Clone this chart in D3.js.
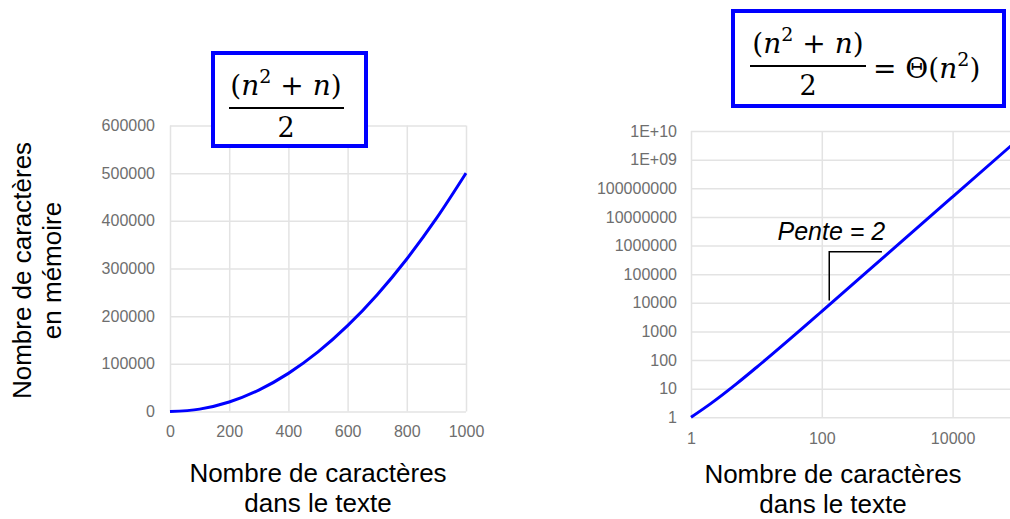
<!DOCTYPE html>
<html><head><meta charset="utf-8">
<script src="https://cdn.jsdelivr.net/npm/d3@7"></script>
<style>
html,body{margin:0;padding:0;background:#fff;}
svg{display:block;}
</style></head>
<body>
<svg id="chart" width="1010" height="519"></svg>
<script>
// ---- Data ----
const linN = [0,100,200,300,400,500,600,700,800,900,1000];
const linVals = [0,5000,20000,45000,80000,125000,180000,245000,320000,405000,500000];
const linXTicks = [0,200,400,600,800,1000];
const linYTicks = [0,100000,200000,300000,400000,500000,600000];

const logN = [1,2,5,10,100,1000,10000,100000];
const logVals = [1,3,15,55,5000,500000,50000000,5000000000];
const logXTicks = [1,100,10000];
const logXLabels = ["1","100","10000"];
const logYTicks = [1,10,100,1000,1e4,1e5,1e6,1e7,1e8,1e9,1e10];
const logYLabels = ["1","10","100","1000","10000","100000","1000000","10000000","100000000","1E+09","1E+10"];

const xTitle = ["Nombre de caractères","dans le texte"];
const yTitle = ["Nombre de caractères","en mémoire"];
const slopeLabel = "Pente = 2";
// slope triangle (data coords)
const slopeTri = {n0:130, n1:830, yTop:6e5, yBottom:1.2e4};
const slopeText = {n:21, y:1.5e6};

const svg = d3.select("#chart");
const BLUE = "#0000ff";
const GRID = "#e3e3e3";
const TICK = "#6e6e6e";
const SANS = "'Liberation Sans', Arial, sans-serif";
const SERIF = "'DejaVu Serif', serif";

// ---- Left chart ----
const xL = d3.scaleLinear().domain([0,1000]).range([170,466]);
const yL = d3.scaleLinear().domain([0,600000]).range([411.5,125.5]);

function styleAxis(g){
  g.select(".domain").remove();
  g.selectAll(".tick line").attr("stroke",GRID).attr("stroke-width",1.5);
  g.selectAll(".tick text").attr("fill",TICK).style("font-family",SANS).style("font-size","16px");
}

svg.append("g").attr("transform",`translate(0,${yL(0)})`)
  .call(d3.axisBottom(xL).tickValues(linXTicks).tickFormat(d3.format("d"))
    .tickSize(-(yL(0)-yL(600000))).tickPadding(14)).call(styleAxis);
svg.append("g").attr("transform",`translate(${xL(0)},0)`)
  .call(d3.axisLeft(yL).tickValues(linYTicks).tickFormat(d3.format("d"))
    .tickSize(-(xL(1000)-xL(0))).tickPadding(15)).call(styleAxis);

const linData = linN.map((n,i)=>[n,linVals[i]]);
svg.append("path").datum(linData)
  .attr("fill","none").attr("stroke",BLUE).attr("stroke-width",3)
  .attr("d", d3.line().x(d=>xL(d[0])).y(d=>yL(d[1])).curve(d3.curveMonotoneX));

// ---- Right chart ----
const xR = d3.scaleLog().domain([1,1e6]).range([691,691+6*65.4]);
const yR = d3.scaleLog().domain([1,1e10]).range([417.3,131]);

svg.append("g").attr("transform",`translate(0,${yR(1)})`)
  .call(d3.axisBottom(xR).tickValues(logXTicks).tickFormat((d,i)=>logXLabels[i])
    .tickSize(-(yR(1)-yR(1e10))).tickPadding(15)).call(styleAxis);
svg.append("g").attr("transform",`translate(${xR(1)},0)`)
  .call(d3.axisLeft(yR).tickValues(logYTicks).tickFormat((d,i)=>logYLabels[i])
    .tickSize(-(xR(1e6)-xR(1))).tickPadding(14)).call(styleAxis);

const logData = logN.map((n,i)=>[n,logVals[i]]);
svg.append("path").datum(logData)
  .attr("fill","none").attr("stroke",BLUE).attr("stroke-width",3)
  .attr("d", d3.line().x(d=>xR(d[0])).y(d=>yR(d[1])).curve(d3.curveMonotoneX));

// slope annotation
svg.append("path")
  .attr("fill","none").attr("stroke","#000").attr("stroke-width",1.5)
  .attr("d", `M${xR(slopeTri.n0)},${yR(slopeTri.yBottom)}L${xR(slopeTri.n0)},${yR(slopeTri.yTop)}L${xR(slopeTri.n1)},${yR(slopeTri.yTop)}`);
svg.append("text").attr("x",xR(slopeText.n)).attr("y",yR(slopeText.y))
  .style("font-family",SANS).style("font-size","25px").style("font-style","italic")
  .attr("fill","#000").text(slopeLabel);

// ---- Axis titles ----
function title2(cx, y1, gap, lines, rotate){
  const t = svg.append("text").attr("text-anchor","middle")
    .style("font-family",SANS).style("font-size","26px").attr("fill","#000");
  if(rotate){
    t.attr("transform",`translate(${cx},${y1}) rotate(-90)`);
    t.append("tspan").attr("x",0).attr("y",0).text(lines[0]);
    t.append("tspan").attr("x",0).attr("y",gap).text(lines[1]);
  } else {
    t.append("tspan").attr("x",cx).attr("y",y1).text(lines[0]);
    t.append("tspan").attr("x",cx).attr("y",y1+gap).text(lines[1]);
  }
}
title2(318, 482, 30, xTitle, false);
title2(833, 483, 30, xTitle, false);
title2(31, 270.5, 30, yTitle, true);

// ---- Formula boxes ----
const SUP = 0.68, SUPDY = 0.42;
function numerator(cx, by, size){
  const t = svg.append("text").attr("x",cx).attr("y",by).attr("text-anchor","middle")
    .style("font-family",SERIF).style("font-size",size+"px").attr("fill","#000");
  t.append("tspan").text("(");
  t.append("tspan").style("font-style","italic").text("n");
  t.append("tspan").attr("dy",-size*SUPDY).style("font-size",(size*SUP)+"px").text("2");
  t.append("tspan").attr("dy",size*SUPDY).text(" + ");
  t.append("tspan").style("font-style","italic").text("n");
  t.append("tspan").text(")");
  return t;
}
// left
svg.append("rect").attr("x",213).attr("y",53).attr("width",153).attr("height",93)
  .attr("fill","#fff").attr("stroke",BLUE).attr("stroke-width",4);
numerator(286, 95, 28);
svg.append("line").attr("x1",229).attr("x2",344).attr("y1",108).attr("y2",108)
  .attr("stroke","#000").attr("stroke-width",2);
svg.append("text").attr("x",286).attr("y",137).attr("text-anchor","middle")
  .style("font-family",SERIF).style("font-size","27px").text("2");

// right
svg.append("rect").attr("x",733).attr("y",11).attr("width",271).attr("height",95)
  .attr("fill","#fff").attr("stroke",BLUE).attr("stroke-width",4);
numerator(808, 53, 28);
svg.append("line").attr("x1",750).attr("x2",866).attr("y1",66).attr("y2",66)
  .attr("stroke","#000").attr("stroke-width",2);
svg.append("text").attr("x",808).attr("y",95).attr("text-anchor","middle")
  .style("font-family",SERIF).style("font-size","27px").text("2");
const rt = svg.append("text").attr("x",873).attr("y",78)
  .style("font-family",SERIF).style("font-size","28px").attr("fill","#000");
rt.append("tspan").text("= Θ(");
rt.append("tspan").style("font-style","italic").text("n");
rt.append("tspan").attr("dy",-28*SUPDY).style("font-size",(28*SUP)+"px").text("2");
rt.append("tspan").attr("dy",28*SUPDY).text(")");
</script>
</body></html>
